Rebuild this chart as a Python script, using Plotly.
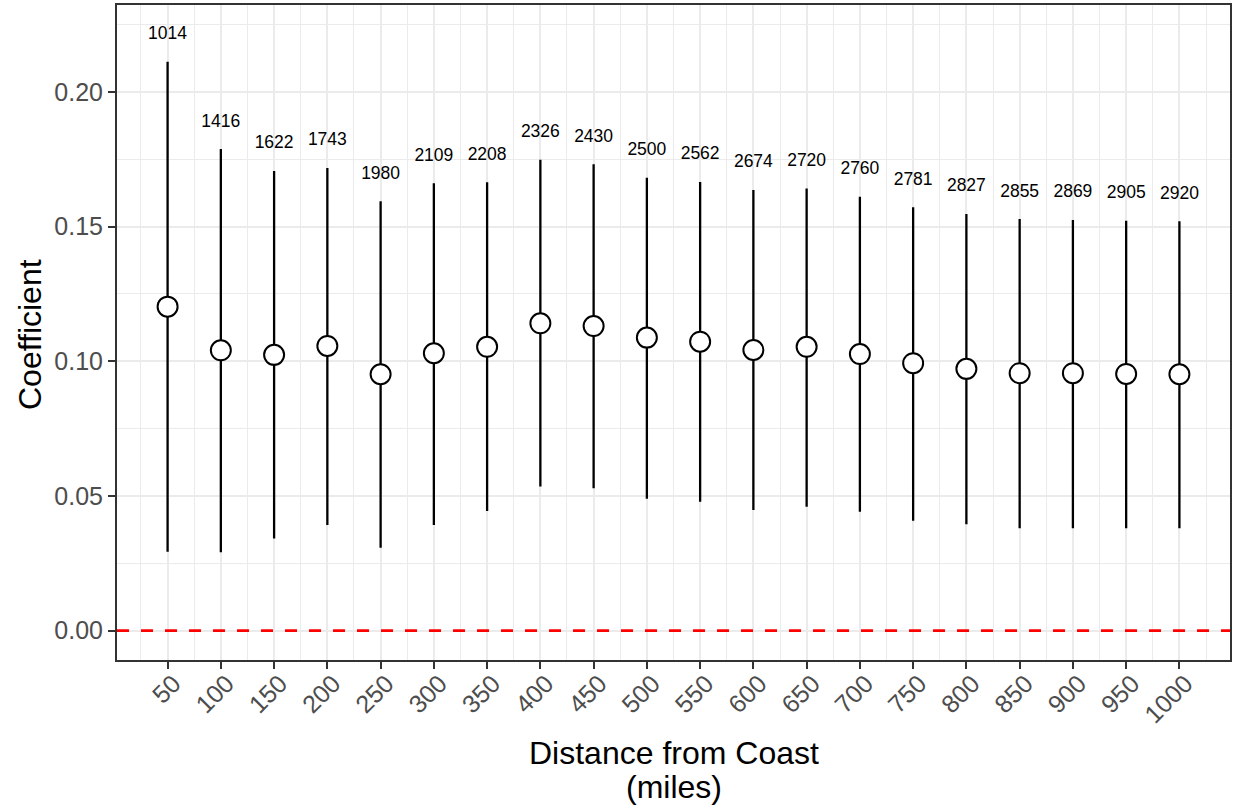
import plotly.graph_objects as go

distance = [50, 100, 150, 200, 250, 300, 350, 400, 450, 500,
            550, 600, 650, 700, 750, 800, 850, 900, 950, 1000]
coef = [0.1203, 0.1041, 0.1024, 0.1057, 0.0952, 0.1030, 0.1054, 0.1141, 0.1131, 0.1088,
        0.1073, 0.1042, 0.1054, 0.1027, 0.0993, 0.0972, 0.0956, 0.0956, 0.0953, 0.0952]
ci_upper = [0.2112, 0.1788, 0.1707, 0.1718, 0.1594, 0.1661, 0.1665, 0.1748, 0.1732, 0.1682,
            0.1666, 0.1636, 0.1642, 0.1611, 0.1572, 0.1547, 0.1528, 0.1525, 0.1522, 0.1520]
ci_lower = [0.0293, 0.0291, 0.0342, 0.0392, 0.0308, 0.0392, 0.0444, 0.0535, 0.0529, 0.0490,
            0.0479, 0.0448, 0.0460, 0.0441, 0.0408, 0.0395, 0.0380, 0.0380, 0.0380, 0.0380]
n_obs = [1014, 1416, 1622, 1743, 1980, 2109, 2208, 2326, 2430, 2500,
         2562, 2674, 2720, 2760, 2781, 2827, 2855, 2869, 2905, 2920]
label_nudge = 0.01

FONT = "Liberation Sans, Arial, Helvetica, sans-serif"

fig = go.Figure()

fig.add_trace(go.Scatter(
    x=distance, y=coef, mode="markers",
    error_y=dict(type="data", symmetric=False,
                 array=[u - c for u, c in zip(ci_upper, coef)],
                 arrayminus=[c - l for c, l in zip(coef, ci_lower)],
                 width=0, thickness=2.3, color="black"),
    marker=dict(size=20, color="white", line=dict(color="black", width=2)),
    showlegend=False, hoverinfo="skip",
))

fig.add_trace(go.Scatter(
    x=distance, y=[u + label_nudge for u in ci_upper], mode="text",
    text=[str(n) for n in n_obs], textposition="middle center",
    textfont=dict(family=FONT, size=17.5, color="black"),
    showlegend=False, hoverinfo="skip",
))

fig.add_shape(type="line", xref="paper", x0=0, x1=1, yref="y", y0=0, y1=0,
              line=dict(color="red", width=2.6, dash="12px,12px"))

axis_common = dict(
    showline=True, mirror=True, linecolor="#333333", linewidth=2,
    ticks="outside", tickcolor="#333333", tickwidth=2, ticklen=7,
    showgrid=True, gridcolor="#EBEBEB", gridwidth=2, zeroline=False,
    tickfont=dict(family=FONT, size=25, color="#4D4D4D"),
    automargin=False,
)

fig.update_xaxes(
    **axis_common,
    range=[2.5, 1047.5], tickmode="array", tickvals=distance,
    ticktext=[str(d) for d in distance], tickangle=-45,
    ticklabelshift=6, ticklabelstandoff=-10,
    minor=dict(showgrid=True, gridcolor="#EBEBEB", gridwidth=1.1, tick0=25, dtick=50),
)
fig.update_yaxes(
    **axis_common,
    range=[-0.0109, 0.2323], tick0=0, dtick=0.05, tickformat=".2f",
    minor=dict(showgrid=True, gridcolor="#EBEBEB", gridwidth=1.1, tick0=0.025, dtick=0.05),
)

title_font = dict(family=FONT, size=32, color="black")
fig.add_annotation(text="Distance from Coast", xref="paper", yref="paper",
                   x=0.5, y=(660 - 753) / 655, xanchor="center", yanchor="middle",
                   showarrow=False, font=title_font)
fig.add_annotation(text="(miles)", xref="paper", yref="paper",
                   x=0.5, y=(660 - 787) / 655, xanchor="center", yanchor="middle",
                   showarrow=False, font=title_font)
fig.add_annotation(text="Coefficient", xref="paper", yref="paper",
                   x=(30 - 117) / 1113, y=(660 - 335) / 655, xanchor="center", yanchor="middle",
                   textangle=-90, showarrow=False, font=title_font)

fig.update_layout(
    width=1235, height=809,
    margin=dict(l=117, r=5, t=5, b=149),
    plot_bgcolor="white", paper_bgcolor="white",
    font=dict(family=FONT),
)

fig.write_html("out.html")
